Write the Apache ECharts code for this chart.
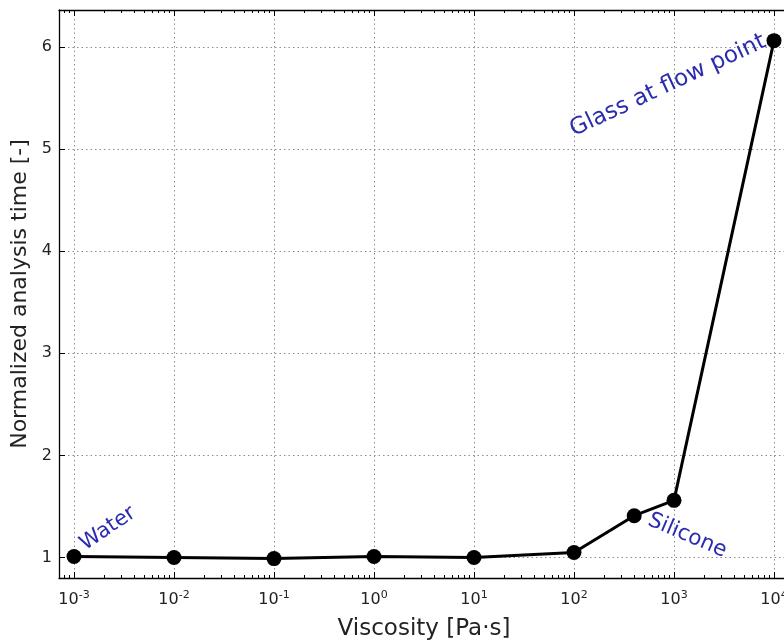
<!DOCTYPE html>
<html>
<head>
<meta charset="utf-8">
<script src="https://cdn.jsdelivr.net/npm/echarts@6/dist/echarts.min.js"></script>
<style>
  html, body { margin: 0; padding: 0; background: #fff; }
  #chart { width: 784px; height: 643px; }
</style>
</head>
<body>
<div id="chart"></div>
<script>
// Measured points: viscosity in Pa·s and normalized analysis time
const viscosity = [0.001, 0.01, 0.1, 1, 10, 100, 400, 1000, 10000];
const analysisTime = [1.01, 1.00, 0.99, 1.01, 1.00, 1.05, 1.41, 1.56, 6.06];

// Decade exponents labelled on the x axis, and y tick values
const xTickExponents = [-3, -2, -1, 0, 1, 2, 3, 4];
const yTickValues = [1, 2, 3, 4, 5, 6];

// Text annotations attached to data points (by index)
const annotationTexts = ['Water', 'Silicone', 'Glass at flow point'];
const annotationPoints = [0, 6, 8];

// Placement of each annotation relative to its point (pixels, degrees)
const annotationLayout = [
  { dx: 34, dy: -28, angle: 34, size: 21 },
  { dx: 53, dy: 20, angle: -23, size: 21.5 },
  { dx: -106, dy: 45, angle: 25, size: 23 }
];

// x is plotted as log10(viscosity) on a value axis
const X_MIN = -3.15, X_MAX = 4.15;
const Y_MIN = 0.8, Y_MAX = 6.36;

const FONT = 'DejaVu Sans';
const minorTicks = [];
for (let e = -4; e <= 4; e++) {
  for (let k = 2; k <= 9; k++) {
    const v = e + Math.log10(k);
    if (v > X_MIN && v < X_MAX) minorTicks.push(v);
  }
}

const seriesData = viscosity.map((v, i) => [Math.log10(v), analysisTime[i]]);

const gridLine = { show: true, lineStyle: { color: '#8c8c8c', width: 1, type: [1.5, 3] } };
const spine = { show: true, onZero: false, lineStyle: { color: '#000', width: 1.3 } };

function decadeLabel(v) {
  const e = Math.round(v);
  return '10{sup|' + e + '}';
}

function xAxisDef(position, ticks, len, opts) {
  return Object.assign({
    type: 'value', min: X_MIN, max: X_MAX, position: position,
    axisLine: { show: false },
    axisTick: { show: true, inside: true, length: len, customValues: ticks,
                lineStyle: { color: '#000', width: 1 } },
    axisLabel: { show: false },
    splitLine: { show: false }
  }, opts || {});
}

const chart = echarts.init(document.getElementById('chart'), null, { renderer: 'canvas' });

chart.setOption({
  animation: false,
  backgroundColor: '#fff',
  // plot area runs slightly past the right edge of the canvas
  grid: { left: 59, top: 10, width: 730, height: 568, containLabel: false, outerBoundsMode: 'none' },
  xAxis: [
    xAxisDef('bottom', xTickExponents, 6, {
      axisLine: spine,
      splitLine: gridLine,
      axisLabel: {
        show: true, customValues: xTickExponents, margin: 12,
        formatter: decadeLabel, color: '#222', fontFamily: FONT, fontSize: 16,
        rich: { sup: { fontSize: 11, fontFamily: FONT, color: '#222', padding: [0, 0, 9, 0] } }
      },
      name: 'Viscosity [Pa\u00b7s]', nameLocation: 'middle', nameGap: 40,
      nameTextStyle: { fontFamily: FONT, fontSize: 23, color: '#222' }
    }),
    xAxisDef('bottom', minorTicks, 3),
    xAxisDef('top', xTickExponents, 6, { axisLine: spine }),
    xAxisDef('top', minorTicks, 3)
  ],
  yAxis: [{
    type: 'value', min: Y_MIN, max: Y_MAX, position: 'left',
    axisLine: spine,
    axisTick: { show: true, inside: true, length: 6, customValues: yTickValues,
                lineStyle: { color: '#000', width: 1 } },
    axisLabel: { show: true, customValues: yTickValues, margin: 7, color: '#222',
                 fontFamily: FONT, fontSize: 16 },
    splitLine: gridLine,
    name: 'Normalized analysis time [-]', nameLocation: 'middle', nameGap: 26,
    nameTextStyle: { fontFamily: FONT, fontSize: 22, color: '#222' }
  }],
  series: [{
    type: 'line',
    xAxisIndex: 0, yAxisIndex: 0,
    data: seriesData,
    symbol: 'circle', symbolSize: 15,
    itemStyle: { color: '#000' },
    lineStyle: { color: '#000', width: 3 },
    z: 3
  }]
});

// Place annotation texts next to their points using the axis scales
const graphics = annotationTexts.map((t, i) => {
  const p = chart.convertToPixel({ xAxisIndex: 0, yAxisIndex: 0 }, seriesData[annotationPoints[i]]);
  const L = annotationLayout[i];
  return {
    type: 'text',
    x: p[0] + L.dx, y: p[1] + L.dy,
    rotation: L.angle * Math.PI / 180,
    style: { text: t, fill: '#2b2bb0', font: L.size + 'px "' + FONT + '"',
             align: 'center', verticalAlign: 'middle' },
    z: 10
  };
});
chart.setOption({ graphic: graphics });
</script>
</body>
</html>
